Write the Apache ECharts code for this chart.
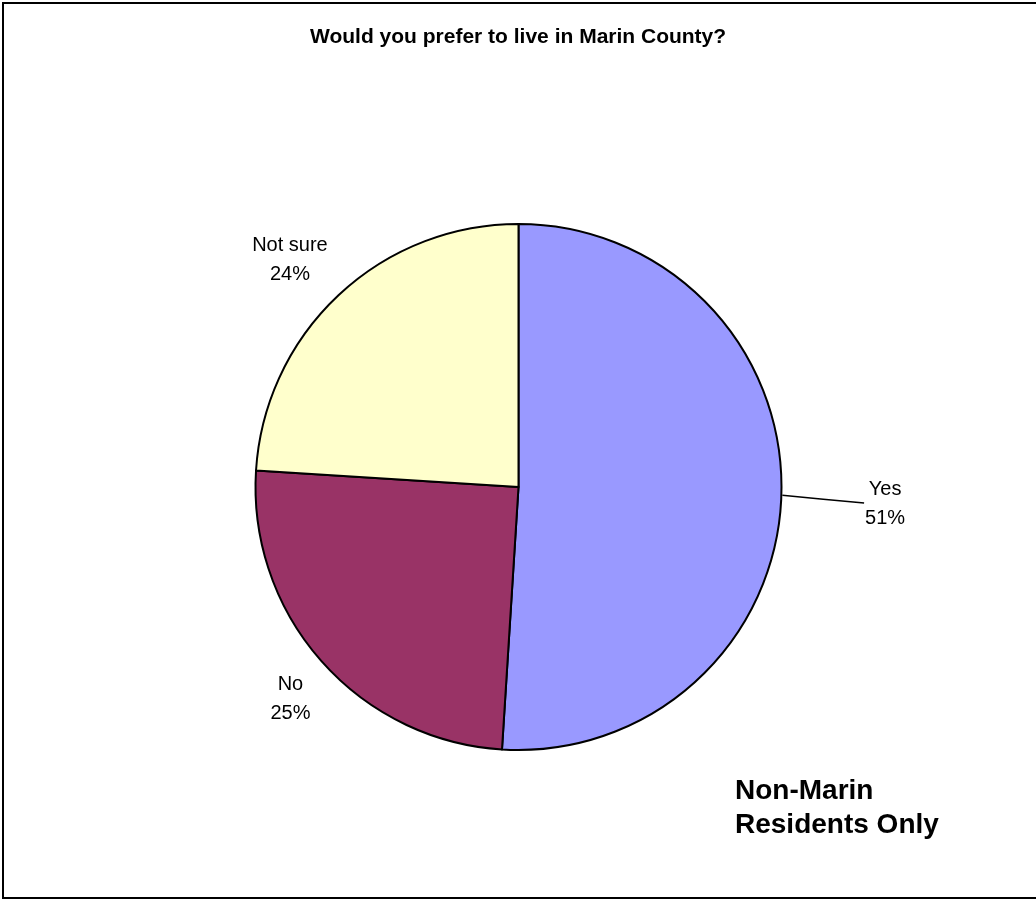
<!DOCTYPE html>
<html>
<head>
<meta charset="utf-8">
<script src="https://cdn.jsdelivr.net/npm/echarts@6/dist/echarts.min.js"></script>
<style>
  html, body { margin: 0; padding: 0; background: #fff; }
  #chart { width: 1036px; height: 900px; }
</style>
</head>
<body>
<div id="chart"></div>
<script>
// Survey answers
const categories = ['Yes', 'No', 'Not sure'];
const values = [51, 25, 24];
const sliceColors = ['#9999FF', '#993366', '#FFFFCC'];

// Pie geometry (pixels)
const CX = 518.5, CY = 487, R = 263;
// Label placement: distance from the centre and a small angular nudge (degrees)
const labelDist = [367, 311.3, 322.1];
const labelNudge = [0.85, -1.5, -2.0];
const FONT = '"Liberation Sans", Arial, Helvetica, sans-serif';

const total = values.reduce((a, b) => a + b, 0);
const midAngles = [];
let acc = 0;
values.forEach(v => { midAngles.push((acc + v / 2) / total * 360); acc += v; });

function polar(angleDeg, dist) {
  const a = angleDeg * Math.PI / 180;
  return [CX + dist * Math.sin(a), CY - dist * Math.cos(a)];
}

const chart = echarts.init(document.getElementById('chart'), null, { renderer: 'canvas' });

chart.setOption({
  animation: false,
  backgroundColor: '#fff',
  title: {
    text: 'Would you prefer to live in Marin County?',
    left: 310,
    top: 27,
    padding: 0,
    textStyle: { fontFamily: FONT, fontSize: 21, fontWeight: 'bold', color: '#000' }
  },
  graphic: [
    {
      type: 'rect',
      silent: true,
      shape: { x: 3, y: 3, width: 1050, height: 895 },
      style: { fill: 'none', stroke: '#000', lineWidth: 2 }
    },
    {
      type: 'text',
      silent: true,
      x: 735,
      y: 774,
      style: {
        text: 'Non-Marin\nResidents Only',
        font: 'bold 28px ' + FONT,
        lineHeight: 34,
        fill: '#000',
        align: 'left',
        verticalAlign: 'top'
      }
    }
  ],
  series: [{
    type: 'pie',
    center: [CX, CY],
    radius: R,
    startAngle: 90,
    clockwise: true,
    avoidLabelOverlap: false,
    emphasis: { disabled: true },
    itemStyle: { borderColor: '#000', borderWidth: 2 },
    label: {
      show: true,
      position: 'outside',
      formatter: '{b}\n{c}%',
      fontFamily: FONT,
      fontSize: 20,
      lineHeight: 29,
      color: '#000'
    },
    labelLine: { show: false, lineStyle: { color: '#000', width: 1.5 } },
    labelLayout: function (p) {
      const i = p.dataIndex;
      const pos = polar(midAngles[i] + labelNudge[i], labelDist[i]);
      const out = { x: pos[0], y: pos[1], align: 'center', verticalAlign: 'middle' };
      if (i === 0) {
        const start = polar(midAngles[i], R + 1);
        const end = [pos[0] - p.labelRect.width / 2 - 1, pos[1] - 1];
        out.labelLinePoints = [start, [(start[0] + end[0]) / 2, (start[1] + end[1]) / 2], end];
      }
      return out;
    },
    data: categories.map((name, i) => ({
      name: name,
      value: values[i],
      itemStyle: { color: sliceColors[i] },
      labelLine: { show: i === 0 }
    }))
  }]
});
</script>
</body>
</html>
